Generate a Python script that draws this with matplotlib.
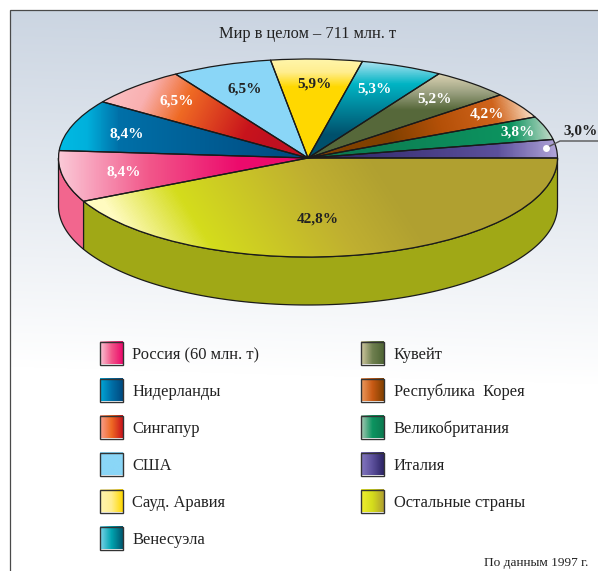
import numpy as np
import matplotlib
matplotlib.use("Agg")
import matplotlib.pyplot as plt
from matplotlib.colors import LinearSegmentedColormap, to_rgb
from matplotlib.patches import Rectangle

categories = ["Италия", "Великобритания", "Республика  Корея", "Кувейт", "Венесуэла",
              "Сауд. Аравия", "США", "Сингапур", "Нидерланды", "Россия (60 млн. т)", "Остальные страны"]
shares = [3.0, 3.8, 4.2, 5.2, 5.3, 5.9, 6.5, 6.5, 8.4, 8.4, 42.8]
value_labels = ["3,0%", "3,8%", "4,2%", "5,2%", "5,3%", "5,9%", "6,5%", "6,5%", "8,4%", "8,4%", "42,8%"]
legend_left = ["Россия (60 млн. т)", "Нидерланды", "Сингапур", "США", "Сауд. Аравия", "Венесуэла"]
legend_right = ["Кувейт", "Республика  Корея", "Великобритания", "Италия", "Остальные страны"]
title = "Мир в целом – 711 млн. т"
source = "По данным 1997 г."

W, H = 598, 571
CX, CY, RX, RY, DEPTH = 308, 158, 249.5, 99, 48

# wedge gradients: (x0, y0, x1, y1, stops) in pixels
GRAD = {
    "Россия (60 млн. т)": (58, 0, 240, 0, [(0, "#FBCBD8"), (.5, "#F2578A"), (1, "#EC0A6C")]),
    "Нидерланды": (58, 0, 300, 0, [(0, "#00BCE4"), (.12, "#00B0DC"), (.25, "#0070A8"), (1, "#004A80")]),
    "Сингапур": (115, 75, 265, 150, [(0, "#FBC0C4"), (.22, "#F9B0B0"), (.45, "#EF6A24"), (.85, "#C8141C"), (1, "#C01020")]),
    "США": (0, 0, 1, 0, [(0, "#8AD6F7"), (1, "#8AD6F7")]),
    "Сауд. Аравия": (0, 60, 0, 90, [(0, "#FFF5A8"), (.4, "#FFEE90"), (.9, "#FFD800"), (1, "#FFD800")]),
    "Венесуэла": (0, 62, 0, 135, [(0, "#A8E2F0"), (.3, "#00B4C4"), (1, "#00506C")]),
    "Кувейт": (0, 75, 0, 110, [(0, "#D8D0B0"), (.5, "#9AA080"), (1, "#56683A")]),
    "Республика  Корея": (530, 98, 330, 155, [(0, "#FBE4CC"), (.18, "#D0641C"), (.45, "#B45008"), (.7, "#804000"), (1, "#804000")]),
    "Великобритания": (555, 130, 340, 150, [(0, "#D0E0D0"), (.2, "#0C9460"), (1, "#0C7A50")]),
    "Италия": (557, 0, 320, 0, [(0, "#B0A4D8"), (.25, "#5C509C"), (1, "#2C2464")]),
    "Остальные страны": (125, 235, 405, 55, [(0, "#FFFBC0"), (.2, "#D4DC1C"), (.55, "#C0B030"), (.75, "#B0A030"), (1, "#B0A030")]),
}
WALL = {"Россия (60 млн. т)": "#F2668E", "Остальные страны": "#A0A816"}
SWATCH = {
    "Россия (60 млн. т)": ["#F9C6D5", "#F2578A", "#EC0A6C"],
    "Нидерланды": ["#00A8D8", "#0070A8", "#004A80"],
    "Сингапур": ["#F9A090", "#EF6A24", "#C8141C"],
    "США": ["#8AD6F7", "#8AD6F7"],
    "Сауд. Аравия": ["#FFF5B0", "#FFEE90", "#FFD800"],
    "Венесуэла": ["#7CD4EA", "#00A4B0", "#005870"],
    "Кувейт": ["#D0C8A0", "#708050", "#4E6434"],
    "Республика  Корея": ["#EC9A60", "#C85A14", "#804000"],
    "Великобритания": ["#A8C8B4", "#0C9460", "#0C7A50"],
    "Италия": ["#8478C0", "#5C509C", "#2C2464"],
    "Остальные страны": ["#F0EE30", "#D4DC1C", "#B0A030"],
}
LABEL_POS = {
    "Италия": (581, 131), "Великобритания": (518, 132), "Республика  Корея": (487, 114), "Кувейт": (434, 99),
    "Венесуэла": (374, 89), "Сауд. Аравия": (314, 84), "США": (245, 89), "Сингапур": (177, 101),
    "Нидерланды": (127, 134), "Россия (60 млн. т)": (124, 172), "Остальные страны": (318, 219),
}
WHITE_LABEL = {"Великобритания", "Республика  Корея", "Кувейт", "Венесуэла", "Сингапур", "Нидерланды", "Россия (60 млн. т)"}
LEGEND_Y = [353, 390, 427, 464, 501, 538]

SERIF = ["Liberation Serif", "DejaVu Serif"]
fig = plt.figure(figsize=(W / 100, H / 100), dpi=100, facecolor="white")

# pixel-coordinate layer: background, frame, legend
bg = fig.add_axes([0, 0, 1, 1])
bg.set_xlim(0, W); bg.set_ylim(H, 0); bg.axis("off")
grid_y, grid_x = np.mgrid[0:H, 0:W]
t = np.clip((grid_y - 10 + (grid_x - 300) * -0.03) / 365.0, 0, 1)
top, bottom = np.array(to_rgb("#CAD4E1")), np.array(to_rgb("#FFFFFF"))
img = top[None, None, :] * (1 - t[..., None]) + bottom[None, None, :] * t[..., None]
bgim = bg.imshow(img, extent=(0, W, H, 0), aspect="auto", zorder=0, interpolation="bilinear")
bgim.set_clip_path(Rectangle((10, 10), W - 10, H - 10, transform=bg.transData))
bg.plot([10, 10, W], [H, 10, 10], color="#4A4A4A", lw=0.9, zorder=2, solid_joinstyle="miter")

# pie layer: axes covers the full figure, unit circle mapped onto the ellipse
ax = fig.add_axes([0, 0, 1, 1], facecolor="none")
wedges, _ = ax.pie(shares, startangle=0, counterclock=True, radius=1, center=(0, 0),
                   wedgeprops=dict(edgecolor="#1A1A1A", linewidth=0.9))
ax.set_aspect("auto")
xlim = (-CX / RX, (W - CX) / RX)
ylim = ((CY - H) / RY, CY / RY)
ax.set_xlim(*xlim); ax.set_ylim(*ylim)
ax.set_axis_off()

gx, gy = grid_x + 0.5, grid_y + 0.5
def gradient_image(x0, y0, x1, y1, stops):
    dx, dy = x1 - x0, y1 - y0
    tt = np.clip(((gx - x0) * dx + (gy - y0) * dy) / (dx * dx + dy * dy), 0, 1)
    return tt, LinearSegmentedColormap.from_list("g", stops)

# side wall from the same shares
cum = np.concatenate([[0], np.cumsum(shares)]) / sum(shares) * 360
dy_unit = DEPTH / RY
for i, name in enumerate(categories):
    a0, a1 = max(cum[i], 180), cum[i + 1]
    if a1 <= 180:
        continue
    th = np.radians(np.linspace(a0, a1, 200))
    x = np.cos(th); y = np.sin(th)
    ax.fill(np.r_[x, x[::-1]], np.r_[y, (y - dy_unit)[::-1]], facecolor=WALL[name],
            edgecolor="#1A1A1A", lw=0.9, zorder=0.5, joinstyle="round")

for w, name in zip(wedges, categories):
    x0, y0, x1, y1, stops = GRAD[name]
    tt, cm = gradient_image(x0, y0, x1, y1, stops)
    im = ax.imshow(tt, extent=(xlim[0], xlim[1], ylim[0], ylim[1]), origin="upper", aspect="auto",
                   cmap=cm, vmin=0, vmax=1, zorder=1, interpolation="bilinear")
    im.set_clip_path(w)
    w.set_facecolor("none"); w.set_zorder(2)
ax.set_xlim(*xlim); ax.set_ylim(*ylim); ax.set_aspect("auto")

px = bg.transData
for name, lab in zip(categories, value_labels):
    ax.text(*LABEL_POS[name], lab, transform=px, ha="center", va="center", family=SERIF, weight="bold",
            fontsize=11, color="white" if name in WHITE_LABEL else "#222222", zorder=6)

# Italy callout: dot and leader
ax.plot([546, 560, W], [148, 141, 141], color="#555555", lw=1.0, zorder=5, transform=px, clip_on=False)
ax.plot([546], [148], "o", color="white", ms=5, mew=0, zorder=6, transform=px)

bg.text(308, 33.5, title, ha="center", va="center", family=SERIF, fontsize=11.8, color="#222222", zorder=3)
bg.text(588, 563, source, ha="right", va="center", family=SERIF, fontsize=9.6, color="#222222", zorder=3)

def swatch(x, yc, name):
    w, h = 23, 23
    cols = SWATCH[name]
    cm = LinearSegmentedColormap.from_list("s", cols)
    bg.imshow(np.linspace(0, 1, 64)[None, :], extent=(x, x + w, yc + h / 2, yc - h / 2), aspect="auto",
              cmap=cm, zorder=3)
    bg.add_patch(Rectangle((x, yc - h / 2), w, h, fill=False, ec="#333333", lw=1.0, zorder=4))
    bg.text(x + 32.5, yc + 2, name, ha="left", va="center", family=SERIF, fontsize=11.9, color="#222222", zorder=4)

for name, yc in zip(legend_left, LEGEND_Y):
    swatch(100, yc, name)
for name, yc in zip(legend_right, LEGEND_Y):
    swatch(361, yc, name)
bg.set_xlim(0, W); bg.set_ylim(H, 0)
fig.savefig("out.png", dpi=100)
